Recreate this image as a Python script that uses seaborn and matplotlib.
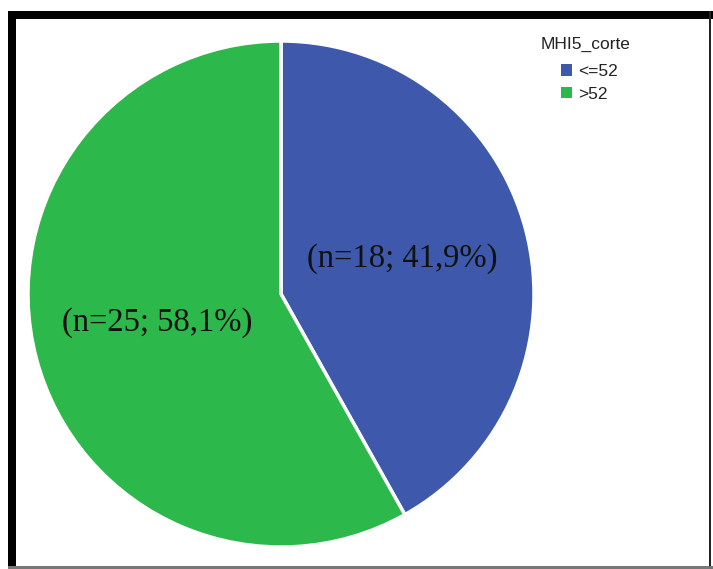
import matplotlib
matplotlib.use("Agg")
import numpy as np
import matplotlib.pyplot as plt
import seaborn as sns
from matplotlib.patches import Rectangle, Patch

# Data
categories = ["<=52", ">52"]
counts = [18, 25]
percents = ["41,9%", "58,1%"]
colors = ["#3E59AC", "#2DB84B"]
legend_title = "MHI5_corte"

sns.set_style("white")

W, H = 713, 569
fig = plt.figure(figsize=(W / 100, H / 100), dpi=100)

# frame around the chart (pixel boxes converted to figure fraction)
def px_rect(x0, y0, x1, y1, color):
    fig.patches.append(Rectangle((x0 / W, 1 - y1 / H), (x1 - x0) / W, (y1 - y0) / H,
                                 transform=fig.transFigure, facecolor=color,
                                 edgecolor="none", zorder=0))

px_rect(8, 11, 713, 19, "black")
px_rect(8, 11, 16, 569, "black")
px_rect(709, 11, 711, 569, "#222222")
px_rect(8, 566, 713, 569, "#777777")

# pie axes: centre (281, 294), radius ~253 px
cx, cy, r = 281, 294, 253
ax = fig.add_axes([(cx - r) / W, 1 - (cy + r) / H, 2 * r / W, 2 * r / H])

labels = [f"(n={n}; {p})" for n, p in zip(counts, percents)]
wedges, _ = ax.pie(counts, colors=colors, startangle=90, counterclock=False,
                   wedgeprops=dict(edgecolor="white", linewidth=2.5))
for w, lab in zip(wedges, labels):
    ang = np.deg2rad((w.theta1 + w.theta2) / 2)
    ax.text(0.5 * np.cos(ang) - 0.005, 0.5 * np.sin(ang) + 0.015, lab, ha="center", va="center",
            fontsize=23.5, family="Liberation Serif", color="#111111")
ax.set_aspect("equal")
ax.set_xlim(-1, 1)
ax.set_ylim(-1, 1)
ax.axis("off")

# legend title and entries
fig.text(541 / W, 1 - 44 / H, legend_title, ha="left", va="center",
         family="Liberation Sans", fontsize=12.5, color="#222222")
handles = [Patch(facecolor=c, edgecolor="none") for c in colors]
leg = fig.legend(handles, categories, loc="upper left",
                 bbox_to_anchor=(561 / W, 1 - 64 / H), frameon=False,
                 borderaxespad=0, borderpad=0,
                 prop=dict(family="Liberation Sans", size=12.5),
                 handlelength=0.63, handleheight=0.63, handletextpad=0.35,
                 labelspacing=0.45)
for t in leg.get_texts():
    t.set_color("#222222")

fig.savefig("out.png", dpi=100)
